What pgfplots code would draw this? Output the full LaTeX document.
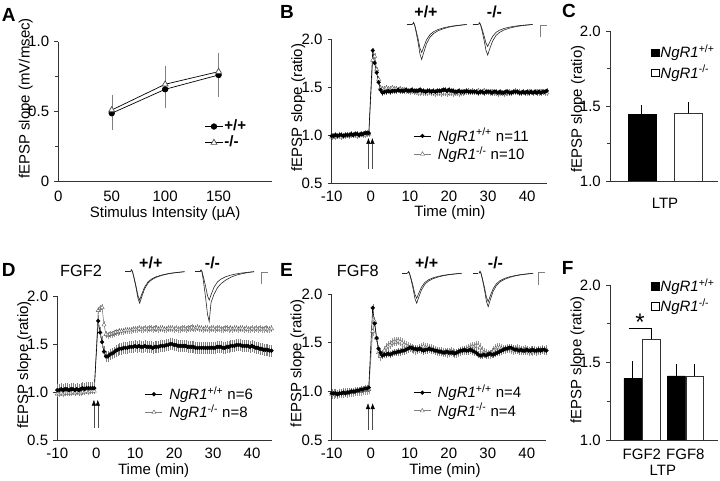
\documentclass[border=0pt]{standalone}
\usepackage{fontspec}
\setmainfont{Liberation Sans}
\usepackage{pgfplots}
\pgfplotsset{compat=1.18}
\usepackage{pgfplotstable}
\usetikzlibrary{arrows.meta}

\pgfplotstableread{
t Bw Bk Dw Dk Ew Ek
-10 0.99 0.98 1.02 0.98 0.98 0.97
-9.5 0.99 0.99 1.02 0.98 0.98 0.97
-9 1.00 0.98 1.03 0.99 0.98 0.98
-8.5 0.99 0.99 1.02 0.98 0.97 0.97
-8 1.00 0.99 1.03 0.99 0.98 0.98
-7.5 1.00 0.98 1.03 0.99 0.98 0.98
-7 0.99 0.99 1.02 0.99 0.99 0.98
-6.5 1.00 0.99 1.03 0.99 0.98 0.99
-6 1.00 1.00 1.03 1.00 0.99 0.98
-5.5 1.00 0.99 1.02 0.99 0.99 0.99
-5 1.01 1.00 1.03 1.00 1.00 0.99
-4.5 1.00 1.00 1.02 1.00 1.00 0.99
-4 1.01 1.00 1.03 0.99 1.00 1.00
-3.5 1.01 0.99 1.04 1.00 1.01 1.00
-3 1.00 1.00 1.03 1.00 1.01 1.00
-2.5 1.01 1.01 1.04 1.01 1.02 1.00
-2 1.01 1.00 1.04 1.00 1.02 1.01
-1.5 1.02 1.00 1.04 1.01 1.03 1.01
-1 1.02 1.01 1.04 1.01 1.03 1.01
-0.5 1.02 1.01 1.04 1.01 1.04 1.02
0.5 1.88 1.78 1.74 1.85 1.86 1.62
1 1.75 1.82 1.62 1.87 1.70 1.72
1.5 1.65 1.68 1.52 1.88 1.55 1.55
2 1.55 1.58 1.42 1.70 1.44 1.40
2.5 1.47 1.49 1.37 1.60 1.40 1.36
3 1.44 1.48 1.37 1.59 1.37 1.38
3.5 1.45 1.48 1.39 1.60 1.38 1.42
4 1.45 1.49 1.40 1.60 1.38 1.45
4.5 1.46 1.48 1.41 1.61 1.39 1.47
5 1.45 1.48 1.43 1.62 1.38 1.48
5.5 1.46 1.49 1.44 1.62 1.39 1.50
6 1.46 1.48 1.45 1.63 1.40 1.51
6.5 1.46 1.48 1.45 1.63 1.40 1.51
7 1.47 1.47 1.46 1.63 1.41 1.52
7.5 1.46 1.48 1.46 1.64 1.41 1.51
8 1.46 1.47 1.46 1.64 1.42 1.50
8.5 1.46 1.47 1.47 1.64 1.42 1.48
9 1.47 1.46 1.47 1.64 1.43 1.47
9.5 1.46 1.46 1.47 1.65 1.44 1.46
10 1.46 1.45 1.48 1.65 1.45 1.45
10.5 1.47 1.46 1.47 1.65 1.45 1.44
11 1.46 1.45 1.48 1.66 1.44 1.43
11.5 1.46 1.45 1.47 1.65 1.44 1.42
12 1.46 1.44 1.47 1.65 1.43 1.43
12.5 1.47 1.44 1.48 1.66 1.44 1.44
13 1.46 1.45 1.47 1.65 1.43 1.45
13.5 1.46 1.44 1.47 1.66 1.42 1.46
14 1.45 1.44 1.47 1.66 1.43 1.45
14.5 1.46 1.44 1.46 1.65 1.43 1.45
15 1.46 1.45 1.47 1.66 1.44 1.44
15.5 1.45 1.44 1.47 1.66 1.43 1.44
16 1.46 1.44 1.47 1.65 1.43 1.43
16.5 1.45 1.43 1.48 1.66 1.42 1.42
17 1.46 1.44 1.48 1.66 1.42 1.41
17.5 1.46 1.44 1.48 1.65 1.41 1.41
18 1.46 1.43 1.49 1.65 1.41 1.41
18.5 1.47 1.44 1.49 1.66 1.40 1.40
19 1.47 1.44 1.50 1.66 1.40 1.40
19.5 1.46 1.43 1.50 1.66 1.41 1.39
20 1.47 1.44 1.49 1.65 1.40 1.40
20.5 1.46 1.44 1.49 1.66 1.40 1.41
21 1.46 1.43 1.48 1.65 1.40 1.40
21.5 1.45 1.44 1.48 1.65 1.39 1.39
22 1.45 1.44 1.48 1.66 1.40 1.39
22.5 1.46 1.43 1.48 1.66 1.41 1.40
23 1.45 1.44 1.48 1.65 1.42 1.41
23.5 1.45 1.44 1.47 1.66 1.42 1.42
24 1.45 1.45 1.47 1.66 1.43 1.42
24.5 1.46 1.45 1.47 1.67 1.42 1.43
25 1.45 1.46 1.47 1.66 1.42 1.44
25.5 1.45 1.45 1.46 1.66 1.43 1.45
26 1.45 1.46 1.46 1.67 1.42 1.46
26.5 1.45 1.45 1.46 1.66 1.41 1.46
27 1.45 1.45 1.46 1.66 1.40 1.47
27.5 1.44 1.46 1.46 1.65 1.38 1.47
28 1.45 1.45 1.46 1.66 1.37 1.45
28.5 1.45 1.45 1.46 1.66 1.37 1.42
29 1.44 1.46 1.46 1.65 1.38 1.40
29.5 1.45 1.45 1.46 1.66 1.37 1.39
30 1.45 1.45 1.46 1.66 1.38 1.38
30.5 1.45 1.44 1.46 1.65 1.39 1.38
31 1.44 1.45 1.47 1.66 1.38 1.40
31.5 1.45 1.44 1.47 1.66 1.38 1.42
32 1.45 1.44 1.47 1.65 1.39 1.44
32.5 1.44 1.43 1.46 1.65 1.40 1.45
33 1.45 1.44 1.46 1.66 1.41 1.45
33.5 1.44 1.44 1.47 1.66 1.42 1.44
34 1.44 1.43 1.47 1.65 1.43 1.43
34.5 1.45 1.44 1.48 1.66 1.44 1.43
35 1.45 1.44 1.48 1.65 1.44 1.44
35.5 1.44 1.45 1.48 1.66 1.45 1.44
36 1.44 1.44 1.49 1.66 1.45 1.43
36.5 1.45 1.45 1.49 1.65 1.44 1.42
37 1.45 1.46 1.49 1.66 1.43 1.43
37.5 1.45 1.45 1.48 1.66 1.43 1.44
38 1.44 1.45 1.48 1.65 1.42 1.43
38.5 1.44 1.44 1.48 1.66 1.43 1.42
39 1.45 1.45 1.48 1.65 1.42 1.42
39.5 1.44 1.44 1.47 1.65 1.42 1.43
40 1.45 1.44 1.48 1.66 1.43 1.42
40.5 1.44 1.45 1.47 1.65 1.42 1.41
41 1.45 1.45 1.46 1.66 1.42 1.42
41.5 1.44 1.44 1.46 1.65 1.43 1.41
42 1.45 1.45 1.45 1.66 1.42 1.42
42.5 1.44 1.45 1.45 1.65 1.42 1.41
43 1.45 1.44 1.44 1.65 1.43 1.42
43.5 1.44 1.45 1.44 1.66 1.42 1.42
44 1.45 1.45 1.44 1.65 1.43 1.43
44.5 1.45 1.44 1.43 1.65 1.43 1.42
45 1.46 1.44 1.43 1.66 1.42 1.43
}\tc

\pgfplotstableread{
x f g
0 0 0
1 -0.06 -0.03
2 0 0
3.5 0.2 0.2
5.5 0.5 0.5
7.5 0.85 0.85
9.2 1.0 1.0
11 0.82 0.62
14 0.55 0.45
17.5 0.36 0.32
21 0.26 0.24
25.5 0.18 0.17
31 0.12 0.11
36 0.08 0.07
41 0.05 0.045
47 0.025 0.02
54 0 0
}\trace

\tikzset{stim/.style={black!70, line width=0.5pt, -{Latex[length=6pt, width=4.5pt, black]}}}

\pgfplotsset{
  base/.style={scale only axis, axis x line*=bottom, axis y line*=left,
    tick align=outside, major tick length=4pt, minor tick length=3pt,
    xtick style={draw=none}, axis line style={line width=0.8pt, black!80},
    ytick style={line width=0.8pt, black!80},
    /pgf/number format/assume math mode=true, clip=false,
    legend cell align=left},
  tc/.style={base, xmin=-10, xmax=45, ymin=0.5, ymax=2,
    xtick={-10,0,10,20,30,40}, ytick={0.5,1,1.5,2},
    xticklabel style={yshift=1pt},
    yticklabel style={/pgf/number format/.cd, fixed, fixed zerofill, precision=1, assume math mode=true},
    xlabel={Time (min)}, reverse legend,
    legend style={draw=none, fill=none, anchor=north west, inner sep=0pt, row sep=0pt,
      nodes={inner sep=1.5pt}, /tikz/every odd column/.append style={column sep=5pt}}},
  wt/.style={black, line width=0.6pt, mark=*, mark size=1.8pt, mark options={fill=black, draw=black},
    error bars/.cd, y dir=both, y fixed=#1, error bar style={gray, line width=0.3pt},
    error mark options={mark size=1pt, gray, line width=0.3pt}},
  ko/.style={gray, line width=0.6pt, mark=triangle*, mark size=2.4pt, mark options={fill=white, draw=gray!70!black, line width=0.4pt},
    error bars/.cd, y dir=both, y fixed=#1, error bar style={gray!80, line width=0.3pt},
    error mark options={mark size=1pt, gray!80, line width=0.3pt}},
  trace/.style={black!85, line width=0.6pt, no markers},
  barax/.style={base, ybar, clip=true, clip mode=individual, ymin=1, ymax=2, ytick={1,1.5,2}, minor ytick={1.25,1.75},
    yticklabel style={/pgf/number format/.cd, fixed, fixed zerofill, precision=1, assume math mode=true},
    legend style={draw=none, fill=none, anchor=north west, inner sep=0pt, row sep=2pt, nodes={inner sep=1.5pt}},
    legend image code/.code={\draw[#1, draw=black] (0pt,-3.8pt) rectangle (7.6pt,3.8pt);}},
}

\begin{document}
\fontsize{15}{17}\selectfont
\begin{tikzpicture}
\path[use as bounding box] (0,0) rectangle (720pt,481pt);

% ---------- A ----------
\begin{axis}[base, at={(58.3pt,299.3pt)}, anchor=south west, width=213.7pt, height=140pt,
  xmin=0, xmax=200, ymin=0, ymax=1, xtick={0,50,100,150},
  ytick={0,0.5,1}, yticklabels={0,0.5,1.0}, minor ytick={0.25,0.75},
  xlabel={Stimulus Intensity (\textmu A)},
  xlabel style={at={(axis description cs:0.5,-0.226)}, anchor=center},
  legend style={draw=none, fill=none, at={(axis description cs:0.686,0.453)}, anchor=north west, inner sep=0pt, row sep=0pt, nodes={inner sep=1.5pt}}]
\addplot[black, line width=0.7pt, mark=*, mark size=2.8pt, mark options={fill=black},
  error bars/.cd, y dir=both, y explicit, error bar style={gray, line width=0.4pt}, error mark options={mark size=1.5pt, gray}]
  coordinates {(50,0.489) +- (0,0.11) (100,0.66) +- (0,0.125) (150,0.762) +- (0,0.145)};
\addlegendentry{\textbf{+/+}}
\addplot[black, line width=0.7pt, mark=triangle*, mark size=3.4pt, mark options={fill=white, draw=black!70},
  error bars/.cd, y dir=both, y explicit, error bar style={gray, line width=0.4pt}, error mark options={mark size=1.5pt, gray}]
  coordinates {(50,0.512) +- (0,0.10) (100,0.696) +- (0,0.12) (150,0.786) +- (0,0.125)};
\addlegendentry{\textbf{-/-}}
\end{axis}

% ---------- B ----------
\begin{axis}[tc, at={(331.7pt,298pt)}, anchor=south west, width=215pt, height=144pt,
  xlabel style={at={(axis description cs:0.55,-0.205)}, anchor=center},
  legend style={at={(axis description cs:0.38,0.391)}}]
\addplot[ko=0.02] table[x=t, y=Bk] {\tc};
\addlegendentry{\textit{NgR1}\textsuperscript{-/-} n=10}
\addplot[wt=0.02] table[x=t, y=Bw] {\tc};
\addlegendentry{\textit{NgR1}\textsuperscript{+/+} n=11}
\draw[stim] (axis cs:-0.6,0.65) -- (axis cs:-0.6,0.97);
\draw[stim] (axis cs:0.4,0.65) -- (axis cs:0.4,0.97);
\end{axis}

% ---------- C ----------
\begin{axis}[barax, at={(610pt,300pt)}, anchor=south west, width=108pt, height=150pt,
  xmin=0.315, xmax=2.648, xtick=\empty, bar width=28pt,
  xlabel={LTP},
  xlabel style={at={(axis description cs:0.509,-0.147)}, anchor=center},
  legend style={at={(axis description cs:0.377,0.917)}}]
\addplot[fill=black, draw=black, bar shift=0pt, error bars/.cd, y dir=plus, y explicit,
  error bar style={black, line width=0.6pt}, error mark options={mark size=3pt, black, line width=0.6pt}]
  coordinates {(1,1.445) +- (0,0.04)};
\addlegendentry{\textit{NgR1}\textsuperscript{+/+}}
\addplot[fill=white, draw=black!80, bar shift=0pt, error bars/.cd, y dir=plus, y explicit,
  error bar style={black, line width=0.6pt}, error mark options={mark size=3pt, black, line width=0.6pt}]
  coordinates {(2,1.451) +- (0,0.056)};
\addlegendentry{\textit{NgR1}\textsuperscript{-/-}}
\end{axis}

% ---------- D ----------
\begin{axis}[tc, at={(57.3pt,41pt)}, anchor=south west, width=214.2pt, height=144pt,
  xlabel style={at={(axis description cs:0.45,-0.215)}, anchor=center},
  legend style={at={(axis description cs:0.409,0.382)}}]
\addplot[ko=0.025] table[x=t, y=Dk] {\tc};
\addlegendentry{\textit{NgR1}\textsuperscript{-/-} n=8}
\addplot[wt=0.05] table[x=t, y=Dw] {\tc};
\addlegendentry{\textit{NgR1}\textsuperscript{+/+} n=6}
\draw[stim] (axis cs:-0.6,0.62) -- (axis cs:-0.6,0.92);
\draw[stim] (axis cs:0.4,0.62) -- (axis cs:0.4,0.92);
\end{axis}

% ---------- E ----------
\begin{axis}[tc, at={(331.7pt,41pt)}, anchor=south west, width=214.6pt, height=145.7pt,
  xlabel style={at={(axis description cs:0.528,-0.21)}, anchor=center},
  legend style={at={(axis description cs:0.38,0.388)}}]
\addplot[ko=0.035] table[x=t, y=Ek] {\tc};
\addlegendentry{\textit{NgR1}\textsuperscript{-/-} n=4}
\addplot[wt=0.03] table[x=t, y=Ew] {\tc};
\addlegendentry{\textit{NgR1}\textsuperscript{+/+} n=4}
\draw[stim] (axis cs:-0.7,0.60) -- (axis cs:-0.7,0.88);
\draw[stim] (axis cs:0.5,0.60) -- (axis cs:0.5,0.88);
\end{axis}

% ---------- F ----------
\begin{axis}[barax, at={(610pt,41pt)}, anchor=south west, width=108pt, height=155pt,
  xmin=0.267, xmax=2.75, xtick={1,2}, xticklabels={FGF2,FGF8}, bar width=17.5pt,
  xlabel={LTP},
  xlabel style={at={(axis description cs:0.49,-0.194)}, anchor=center},
  legend style={at={(axis description cs:0.377,1.052)}}]
\addplot[fill=black, draw=black, bar shift=-9.2pt, error bars/.cd, y dir=plus, y explicit,
  error bar style={black, line width=0.6pt}, error mark options={mark size=3pt, black, line width=0.6pt}]
  coordinates {(1,1.398) +- (0,0.092) (2,1.413) +- (0,0.057)};
\addlegendentry{\textit{NgR1}\textsuperscript{+/+}}
\addplot[fill=white, draw=black!80, bar shift=9.2pt, error bars/.cd, y dir=plus, y explicit,
  error bar style={black, line width=0.6pt}, error mark options={mark size=3pt, black, line width=0.6pt}]
  coordinates {(1,1.65) +- (0,0.05) (2,1.413) +- (0,0.057)};
\addlegendentry{\textit{NgR1}\textsuperscript{-/-}}
\draw[black, line width=0.8pt] (axis cs:0.71,1.72) -- (axis cs:1.20,1.72);
\node[font=\fontsize{24}{24}\selectfont] at (axis cs:0.956,1.76) {*};
\end{axis}

% ---------- overlay: insets, labels, panel letters ----------
\begin{axis}[at={(0pt,0pt)}, anchor=south west, scale only axis, width=720pt, height=481pt,
  xmin=0, xmax=720, ymin=-481, ymax=0, hide axis, clip=false]
% B insets
\addplot[trace] coordinates {(406.7,-24.5) (411.7,-24.5)};
\addplot[trace] table[x expr=\thisrow{x}+412.5, y expr=-(24.5+28*\thisrow{f})] {\trace};
\addplot[trace] table[x expr=\thisrow{x}+412.5, y expr=-(24.5+35*\thisrow{f})] {\trace};
\addplot[trace] coordinates {(472.7,-24.5) (477.7,-24.5)};
\addplot[trace] table[x expr=\thisrow{x}+478.5, y expr=-(24.5+22*\thisrow{f})] {\trace};
\addplot[trace] table[x expr=\thisrow{x}+478.5, y expr=-(24.5+30.5*\thisrow{f})] {\trace};
\addplot[gray, line width=0.8pt] coordinates {(540,-36.7) (540,-25) (546.7,-25)};
% D insets
\addplot[trace] coordinates {(125,-271.7) (130,-271.7)};
\addplot[trace] table[x expr=\thisrow{x}+130.5, y expr=-(271.7+28.3*\thisrow{f})] {\trace};
\addplot[trace] table[x expr=\thisrow{x}+130.5, y expr=-(271.7+31.6*\thisrow{f})] {\trace};
\addplot[trace] coordinates {(194.5,-271.7) (199.5,-271.7)};
\addplot[trace] table[x expr=\thisrow{x}+200, y expr=-(271.7+28.3*\thisrow{f})] {\trace};
\addplot[trace] table[x expr=\thisrow{x}+200, y expr=-(271.7+50*\thisrow{g})] {\trace};
\addplot[gray, line width=0.8pt] coordinates {(261.7,-284) (261.7,-272) (268,-272)};
% E insets
\addplot[trace] coordinates {(401.7,-273.3) (406.7,-273.3)};
\addplot[trace] table[x expr=\thisrow{x}+407.5, y expr=-(273.3+25*\thisrow{f})] {\trace};
\addplot[trace] table[x expr=\thisrow{x}+407.5, y expr=-(273.3+30*\thisrow{f})] {\trace};
\addplot[trace] coordinates {(473.3,-273.3) (478.3,-273.3)};
\addplot[trace] table[x expr=\thisrow{x}+479, y expr=-(273.3+28.4*\thisrow{f})] {\trace};
\addplot[trace] table[x expr=\thisrow{x}+479, y expr=-(273.3+33.4*\thisrow{f})] {\trace};
\addplot[gray, line width=0.8pt] coordinates {(538,-285) (538,-272) (545,-272)};
% y axis labels
\node[rotate=90] at (axis cs:25.8,-98.5) {fEPSP slope (mV/msec)};
\node[rotate=90] at (axis cs:298.3,-107.5) {fEPSP slope (ratio)};
\node[rotate=90] at (axis cs:578,-109.2) {fEPSP slope (ratio)};
\node[rotate=90] at (axis cs:24.2,-365) {fEPSP slope (ratio)};
\node[rotate=90] at (axis cs:297.5,-363.3) {fEPSP slope (ratio)};
\node[rotate=90] at (axis cs:577.5,-360) {fEPSP slope (ratio)};
% inset labels
\node[font=\fontsize{16}{16}\selectfont\bfseries] at (axis cs:426,-11.7) {+/+};
\node[font=\fontsize{16}{16}\selectfont\bfseries] at (axis cs:494.5,-11.7) {-/-};
\node[font=\fontsize{16}{16}\selectfont\bfseries] at (axis cs:150.8,-263) {+/+};
\node[font=\fontsize{16}{16}\selectfont\bfseries] at (axis cs:212.5,-263) {-/-};
\node[font=\fontsize{16}{16}\selectfont\bfseries] at (axis cs:426.7,-263) {+/+};
\node[font=\fontsize{16}{16}\selectfont\bfseries] at (axis cs:495.5,-263) {-/-};
\node[font=\fontsize{16.3}{16}\selectfont, anchor=base west, inner sep=0pt] at (axis cs:60,-276.7) {FGF2};
\node[font=\fontsize{16.3}{16}\selectfont, anchor=base west, inner sep=0pt] at (axis cs:336.7,-276.7) {FGF8};
% panel letters
\node[font=\fontsize{19}{19}\selectfont\bfseries, anchor=base west, inner sep=0pt] at (axis cs:1.7,-21.7) {A};
\node[font=\fontsize{19}{19}\selectfont\bfseries, anchor=base west, inner sep=0pt] at (axis cs:280,-18.3) {B};
\node[font=\fontsize{19}{19}\selectfont\bfseries, anchor=base west, inner sep=0pt] at (axis cs:562,-18) {C};
\node[font=\fontsize{19}{19}\selectfont\bfseries, anchor=base west, inner sep=0pt] at (axis cs:1.7,-276.7) {D};
\node[font=\fontsize{19}{19}\selectfont\bfseries, anchor=base west, inner sep=0pt] at (axis cs:280,-277) {E};
\node[font=\fontsize{19}{19}\selectfont\bfseries, anchor=base west, inner sep=0pt] at (axis cs:561.7,-275) {F};
\end{axis}
\end{tikzpicture}
\end{document}
